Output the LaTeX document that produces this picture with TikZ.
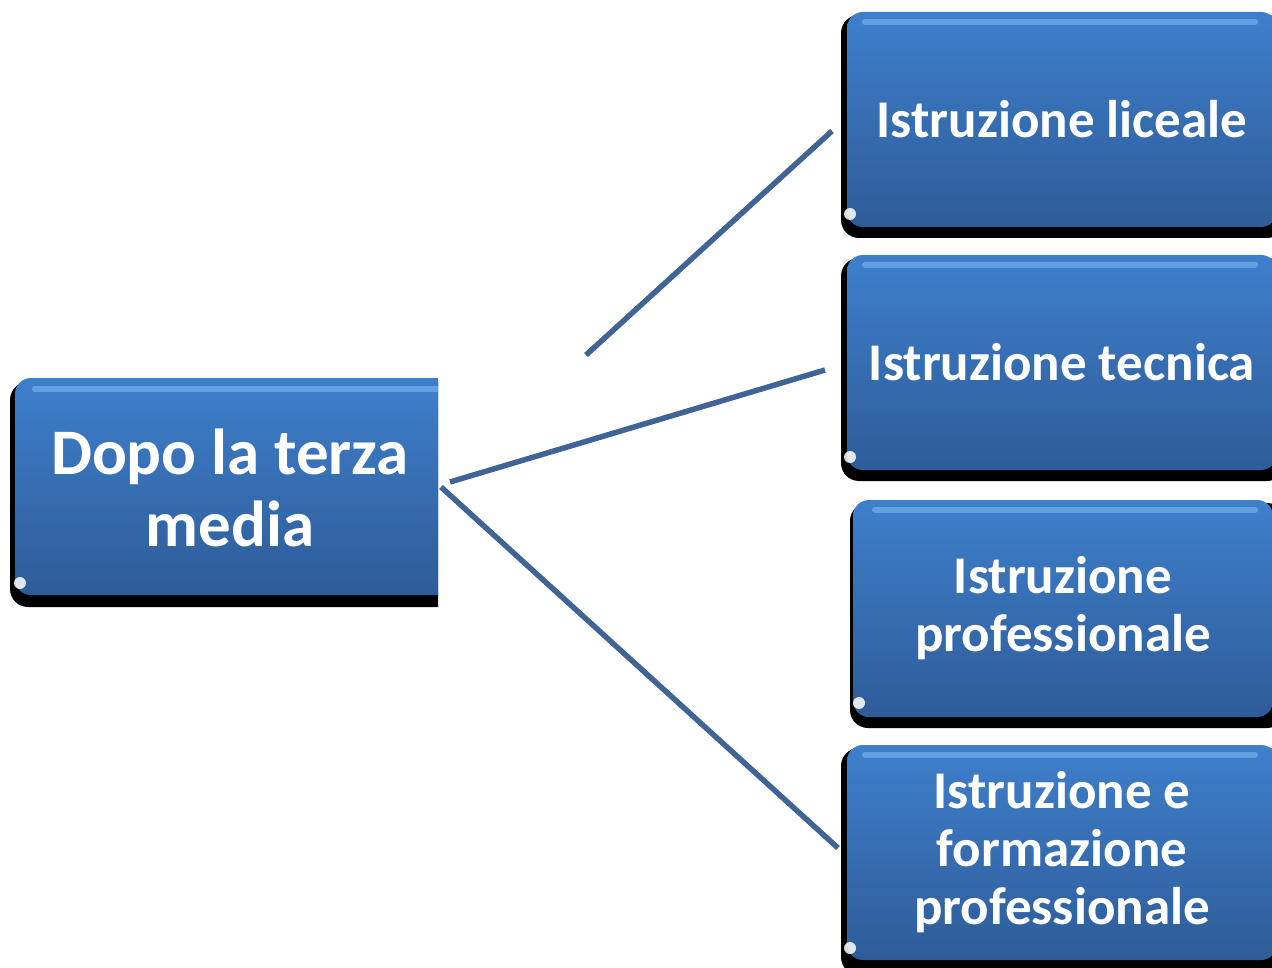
\documentclass[tikz,border=0pt]{standalone}
\usepackage{fontspec}
\setmainfont{Carlito}
\usetikzlibrary{shadings}
\definecolor{boxtop}{RGB}{62,127,204}
\definecolor{boxbot}{RGB}{46,92,152}
\definecolor{linecol}{RGB}{64,100,150}
\definecolor{gloss}{RGB}{120,180,240}
\begin{document}
\begin{tikzpicture}[x=1pt,y=-1pt,
  box/.style={rounded corners=16pt, top color=boxtop, bottom color=boxbot, draw=none,
    text=white, align=center, inner sep=0pt, font=\bfseries\fontsize{53}{58}\selectfont},
  bigbox/.style={box, font=\bfseries\fontsize{65}{72}\selectfont},
  shade/.style={fill=black, rounded corners=18pt},
  glossline/.style={draw=gloss, line width=6pt, line cap=round, opacity=0.65},
  blob/.style={fill=white, opacity=0.85},
  conn/.style={draw=linecol, line width=5.5pt}]
\useasboundingbox (0,0) rectangle (1272,968);
\clip (0,0) rectangle (1272,968);

% left box
\begin{scope}
\clip (0,0) rectangle (438,968);
\fill[shade] (10,382) rectangle (470,607);
\node[bigbox, minimum width=440pt, minimum height=217pt] (b0) at (235,486.5) {};
\draw[glossline] (35,389) -- (440,389);
\fill[blob] (20,583) circle (6);
\end{scope}
\node[text=white, font=\bfseries\fontsize{65}{72}\selectfont, align=center] (t0) at (230,488) {Dopo la terza\\media};

% right boxes
\fill[shade] (841,15) rectangle (1285,238);
\node[box, minimum width=430pt, minimum height=215pt] (b1) at (1062,119.5) {Istruzione liceale};
\draw[glossline] (865,22) -- (1255,22);
\fill[blob] (850,214) circle (6);

\fill[shade] (841,258) rectangle (1285,481);
\node[box, minimum width=430pt, minimum height=215pt] (b2) at (1062,362.5) {Istruzione tecnica};
\draw[glossline] (865,265) -- (1255,265);
\fill[blob] (850,457) circle (6);

\fill[shade] (850,503) rectangle (1285,728);
\node[box, minimum width=420pt, minimum height=217pt] (b3) at (1063,608.5) {Istruzione\\professionale};
\draw[glossline] (875,510) -- (1255,510);
\fill[blob] (859,703) circle (6);

\fill[shade] (841,748) rectangle (1285,975);
\node[box, minimum width=430pt, minimum height=215pt] (b4) at (1062,852.5) {Istruzione e\\formazione\\professionale};
\draw[glossline] (865,755) -- (1255,755);
\fill[blob] (850,948) circle (6);

% connectors
\coordinate (c1s) at (586,355);
\coordinate (c1e) at (832,131);
\coordinate (c2s) at (450,482);
\coordinate (c2e) at (825,370);
\coordinate (c3s) at (441,487);
\coordinate (c3e) at (838,848);
\draw[conn] (c1s) -- (c1e);
\draw[conn] (c2s) -- (c2e);
\draw[conn] (c3s) -- (c3e);
\end{tikzpicture}
\end{document}
